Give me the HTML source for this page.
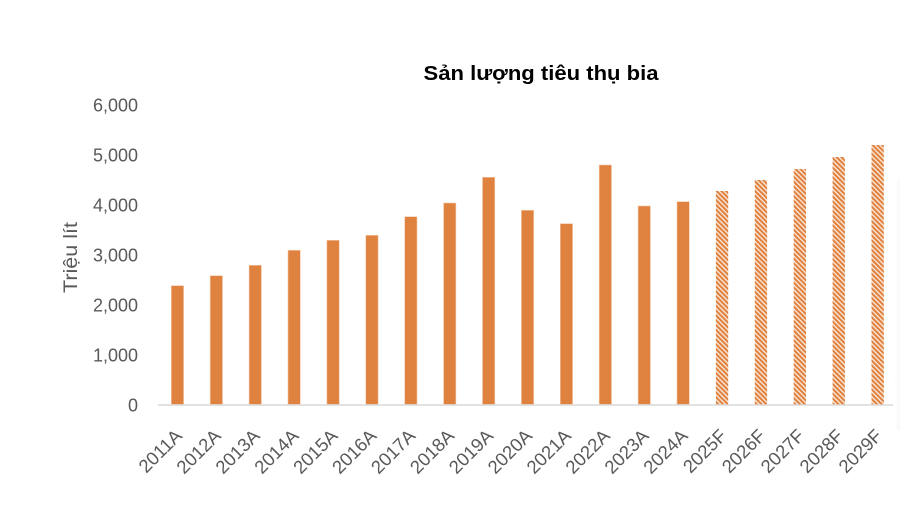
<!DOCTYPE html>
<html>
<head>
<meta charset="utf-8">
<style>
html,body{margin:0;padding:0;background:#fff;}
svg{display:block;}
</style>
</head>
<body>
<svg width="900" height="506" viewBox="0 0 900 506" xmlns="http://www.w3.org/2000/svg">
<defs>
<pattern id="hatch" patternUnits="userSpaceOnUse" width="3.4" height="3.4" patternTransform="rotate(-45)">
<rect x="0" y="0" width="3.4" height="3.4" fill="#fcece0"/>
<rect x="0" y="0" width="2.1" height="3.4" fill="#E0823F"/>
</pattern>
<linearGradient id="sh" x1="0" y1="0" x2="1" y2="0">
<stop offset="0" stop-color="#ffffff" stop-opacity="0"/>
<stop offset="1" stop-color="#f0f0f0" stop-opacity="0.5"/>
</linearGradient>
</defs>
<rect width="900" height="506" fill="#fff"/>
<rect x="892" y="180" width="8" height="250" fill="url(#sh)"/>

<text x="541" y="80" text-anchor="middle" font-family="Liberation Sans, sans-serif" font-weight="bold" font-size="20" fill="#000" textLength="235" lengthAdjust="spacingAndGlyphs">Sản lượng tiêu thụ bia</text>

<g font-family="Liberation Sans, sans-serif" font-size="18" fill="#595959" text-anchor="end">
<text x="138" y="111.5">6,000</text>
<text x="138" y="161.5">5,000</text>
<text x="138" y="211.5">4,000</text>
<text x="138" y="261.5">3,000</text>
<text x="138" y="311.5">2,000</text>
<text x="138" y="361.5">1,000</text>
<text x="138" y="411.5">0</text>
</g>

<text transform="translate(77,257.5) rotate(-90)" text-anchor="middle" font-family="Liberation Sans, sans-serif" font-size="19" fill="#595959" textLength="71" lengthAdjust="spacingAndGlyphs">Triệu lít</text>

<g fill="#E0823F" stroke="#f3c9a8" stroke-width="0.6">
<rect x="171.3" y="285.7" width="12.3" height="118.8"/>
<rect x="210.2" y="275.7" width="12.3" height="128.8"/>
<rect x="249.1" y="265.3" width="12.3" height="139.2"/>
<rect x="288.0" y="250.3" width="12.3" height="154.2"/>
<rect x="326.9" y="240.3" width="12.3" height="164.2"/>
<rect x="365.8" y="235.3" width="12.3" height="169.2"/>
<rect x="404.7" y="216.7" width="12.3" height="187.8"/>
<rect x="443.6" y="203.0" width="12.3" height="201.5"/>
<rect x="482.5" y="177.3" width="12.3" height="227.2"/>
<rect x="521.4" y="210.3" width="12.3" height="194.2"/>
<rect x="560.3" y="223.7" width="12.3" height="180.8"/>
<rect x="599.2" y="165.0" width="12.3" height="239.5"/>
<rect x="638.1" y="206.0" width="12.3" height="198.5"/>
<rect x="677.0" y="201.7" width="12.3" height="202.8"/>
</g>
<g fill="url(#hatch)">
<rect x="715.9" y="191.0" width="12.3" height="213.5"/>
<rect x="754.8" y="180.0" width="12.3" height="224.5"/>
<rect x="793.7" y="169.0" width="12.3" height="235.5"/>
<rect x="832.6" y="157.0" width="12.3" height="247.5"/>
<rect x="871.5" y="145.0" width="12.3" height="259.5"/>
</g>

<line x1="158" y1="405" x2="893" y2="405" stroke="#D9D9D9" stroke-width="1.6"/>

<g font-family="Liberation Sans, sans-serif" font-size="18.5" fill="#595959" text-anchor="end">
<text transform="translate(183.1,437) rotate(-45)">2011A</text>
<text transform="translate(222.0,437) rotate(-45)">2012A</text>
<text transform="translate(260.9,437) rotate(-45)">2013A</text>
<text transform="translate(299.8,437) rotate(-45)">2014A</text>
<text transform="translate(338.7,437) rotate(-45)">2015A</text>
<text transform="translate(377.6,437) rotate(-45)">2016A</text>
<text transform="translate(416.5,437) rotate(-45)">2017A</text>
<text transform="translate(455.4,437) rotate(-45)">2018A</text>
<text transform="translate(494.3,437) rotate(-45)">2019A</text>
<text transform="translate(533.2,437) rotate(-45)">2020A</text>
<text transform="translate(572.1,437) rotate(-45)">2021A</text>
<text transform="translate(611.0,437) rotate(-45)">2022A</text>
<text transform="translate(649.9,437) rotate(-45)">2023A</text>
<text transform="translate(688.8,437) rotate(-45)">2024A</text>
<text transform="translate(727.7,437) rotate(-45)">2025F</text>
<text transform="translate(766.6,437) rotate(-45)">2026F</text>
<text transform="translate(805.5,437) rotate(-45)">2027F</text>
<text transform="translate(844.4,437) rotate(-45)">2028F</text>
<text transform="translate(883.3,437) rotate(-45)">2029F</text>
</g>
</svg>
</body>
</html>
